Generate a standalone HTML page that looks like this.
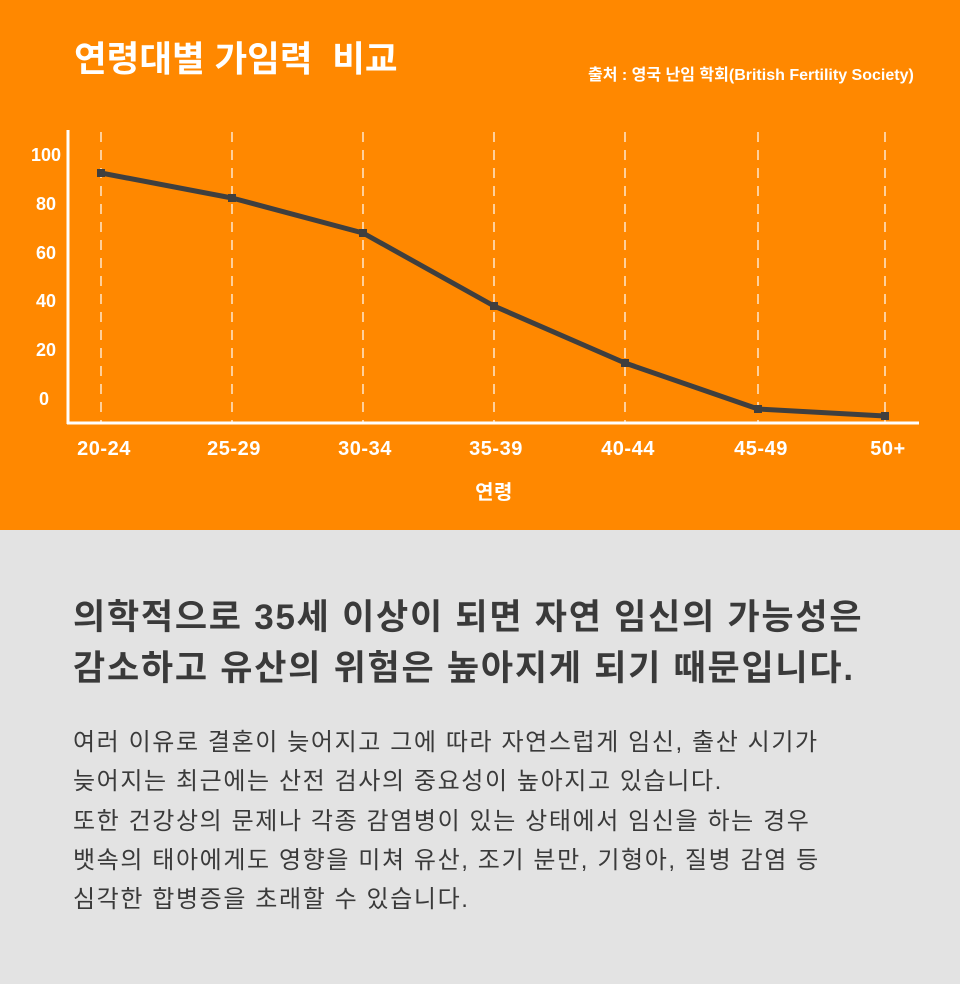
<!DOCTYPE html>
<html><head><meta charset="utf-8"><style>
body{margin:0;width:960px;height:984px;overflow:hidden;font-family:"Liberation Sans","Noto Sans CJK KR",sans-serif;}
.top{position:absolute;left:0;top:0;width:960px;height:530px;background:#FF8800;}
.bot{position:absolute;left:0;top:530px;width:960px;height:454px;background:#E3E3E3;}
.t{position:absolute;white-space:nowrap;}
</style></head><body>
<div class="top">
<svg width="960" height="530" style="position:absolute;left:0;top:0">
<g stroke="#fff" stroke-width="1.2" stroke-dasharray="10,8">
<line x1="101" y1="132" x2="101" y2="423"/><line x1="232" y1="132" x2="232" y2="423"/><line x1="363" y1="132" x2="363" y2="423"/><line x1="494" y1="132" x2="494" y2="423"/><line x1="625" y1="132" x2="625" y2="423"/><line x1="758" y1="132" x2="758" y2="423"/><line x1="885" y1="132" x2="885" y2="423"/>
</g>
<line x1="68" y1="130" x2="68" y2="424" stroke="#fff" stroke-width="3"/>
<line x1="67" y1="423" x2="919" y2="423" stroke="#fff" stroke-width="3"/>
<polyline points="101,173 232,198 363,233 494,306 625,363 758,409 885,416" fill="none" stroke="#3f3f3f" stroke-width="5" stroke-linejoin="round"/>
<g fill="#3f3f3f">
<rect x="97" y="169" width="8" height="8"/><rect x="228" y="194" width="8" height="8"/><rect x="359" y="229" width="8" height="8"/><rect x="490" y="302" width="8" height="8"/><rect x="621" y="359" width="8" height="8"/><rect x="754" y="405" width="8" height="8"/><rect x="881" y="412" width="8" height="8"/>
</g>
<g fill="#fff" font-family="Liberation Sans, Noto Sans CJK KR, sans-serif" font-weight="bold" font-size="18" text-anchor="end">
<text x="61" y="161">100</text><text x="56" y="210">80</text><text x="56" y="259">60</text><text x="56" y="307">40</text><text x="56" y="356">20</text><text x="49" y="405">0</text>
</g>
<g fill="#fff" font-family="Liberation Sans, Noto Sans CJK KR, sans-serif" font-weight="bold" font-size="20" letter-spacing="0.5" text-anchor="middle">
<text x="104" y="455">20-24</text><text x="234" y="455">25-29</text><text x="365" y="455">30-34</text><text x="496" y="455">35-39</text><text x="628" y="455">40-44</text><text x="761" y="455">45-49</text><text x="888" y="455">50+</text>
<text x="494" y="499">연령</text>
</g>
</svg>
<div class="t" style="left:74px;top:31px;font-size:35.5px;font-weight:bold;color:#fff;">연령대별 가임력&nbsp; 비교</div>
<div class="t" style="left:588px;top:61px;font-size:16px;font-weight:bold;color:#fff;">출처 : 영국 난임 학회(British Fertility Society)</div>
</div>
<div class="bot">
<div class="t" style="left:73px;top:62px;font-size:35px;letter-spacing:1.75px;font-weight:bold;color:#3a3a3a;line-height:51px;">의학적으로 35세 이상이 되면 자연 임신의 가능성은<br>감소하고 유산의 위험은 높아지게 되기 때문입니다.</div>
<div class="t" style="left:73px;top:193px;font-size:24px;letter-spacing:1.6px;color:#3a3a3a;line-height:39.3px;">여러 이유로 결혼이 늦어지고 그에 따라 자연스럽게 임신, 출산 시기가<br>늦어지는 최근에는 산전 검사의 중요성이 높아지고 있습니다.<br>또한 건강상의 문제나 각종 감염병이 있는 상태에서 임신을 하는 경우<br>뱃속의 태아에게도 영향을 미쳐 유산, 조기 분만, 기형아, 질병 감염 등<br>심각한 합병증을 초래할 수 있습니다.</div>
</div>
</body></html>
